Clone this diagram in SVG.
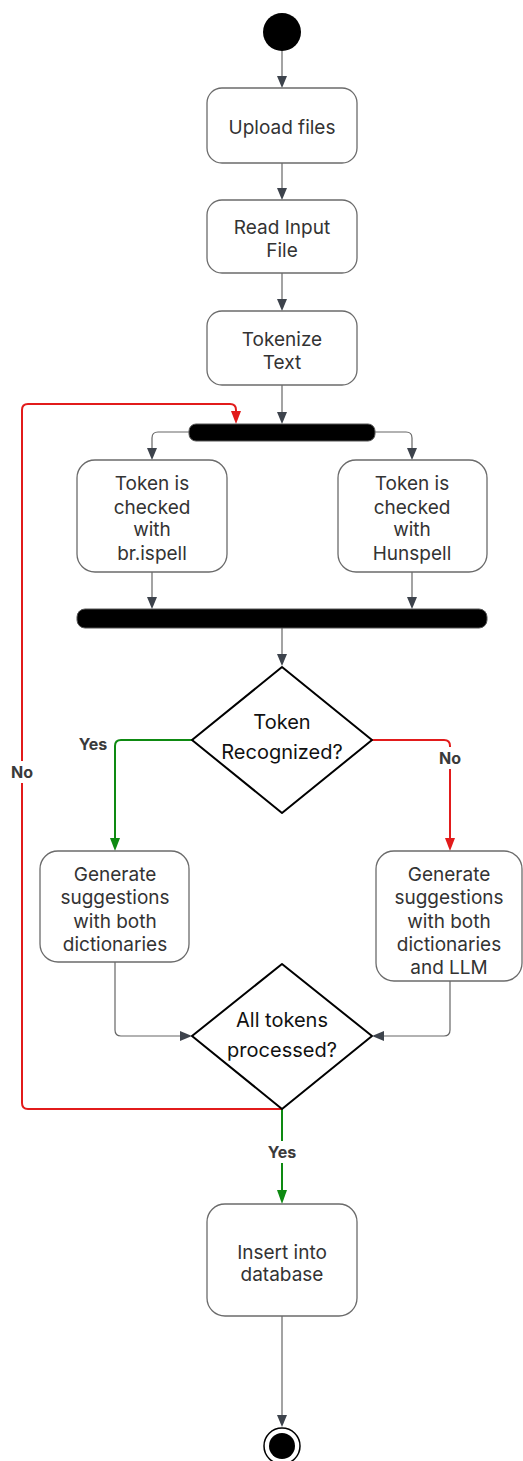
<svg xmlns="http://www.w3.org/2000/svg" width="523" height="1461" viewBox="0 0 523 1461">
<style>
.box{fill:#fff;stroke:#6b6b6b;stroke-width:1.3}
.dia{fill:#fff;stroke:#000;stroke-width:2;stroke-linejoin:round}
.bar{fill:#000;stroke:#555;stroke-width:1}
.t{font-family:Inter,"Liberation Sans",sans-serif;font-size:19px;fill:#333;text-anchor:middle;dominant-baseline:central}
.td{font-family:Inter,"Liberation Sans",sans-serif;font-size:20px;fill:#111;text-anchor:middle;dominant-baseline:central}
.lbl{font-family:Inter,"Liberation Sans",sans-serif;font-size:16px;font-weight:bold;fill:#3a3a3a;text-anchor:middle;dominant-baseline:central}
.c{fill:none;stroke:#666;stroke-width:1.2}
.g{fill:none;stroke:#0e8a12;stroke-width:2}
.r{fill:none;stroke:#e21b1b;stroke-width:2}
.ah{fill:#3d434c}
.ahg{fill:#0e8a12}
.ahr{fill:#e21b1b}
</style>
<g id="connectors">
<path class="c" d="M282,51 V76"/><path class="ah" d="M277,76 L287,76 L282,88 Z"/>
<path class="c" d="M282,163 V188"/><path class="ah" d="M277,188 L287,188 L282,200 Z"/>
<path class="c" d="M282,273 V299"/><path class="ah" d="M277,299 L287,299 L282,311 Z"/>
<path class="c" d="M282,385 V412"/><path class="ah" d="M277,412 L287,412 L282,424 Z"/>
<path class="c" d="M189,432 H158 Q152,432 152,438 V448"/><path class="ah" d="M147,448 L157,448 L152,460 Z"/>
<path class="c" d="M375,432 H406 Q412,432 412,438 V448"/><path class="ah" d="M407,448 L417,448 L412,460 Z"/>
<path class="c" d="M152,572 V597"/><path class="ah" d="M147,597 L157,597 L152,609 Z"/>
<path class="c" d="M412,572 V597"/><path class="ah" d="M407,597 L417,597 L412,609 Z"/>
<path class="c" d="M282,628 V654"/><path class="ah" d="M277,654 L287,654 L282,666 Z"/>
<path class="g" d="M192,740 H121 Q115,740 115,746 V838"/><path class="ahg" d="M110,838 L120,838 L115,851 Z"/>
<path class="r" d="M372,740 H444 Q450,740 450,746 V838"/><path class="ahr" d="M445,838 L455,838 L450,851 Z"/>
<path class="c" d="M115,962 V1030 Q115,1036 121,1036 H180"/><path class="ah" d="M180,1031 L192,1036 L180,1041 Z"/>
<path class="c" d="M450,981 V1030 Q450,1036 444,1036 H384"/><path class="ah" d="M384,1031 L372,1036 L384,1041 Z"/>
<path class="r" d="M282,1109 H28 Q22,1109 22,1103 V410 Q22,404 28,404 H230 Q236,404 236,410 V412"/><path class="ahr" d="M231,411 L241,411 L236,424 Z"/>
<path class="g" d="M282,1109 V1190"/><path class="ahg" d="M277,1190 L287,1190 L282,1204 Z"/>
<path class="c" d="M282,1316 V1415"/><path class="ah" d="M277,1415 L287,1415 L282,1427 Z"/>
<rect x="9" y="761" width="26" height="22" fill="#fff"/>
<text class="lbl" x="22" y="772">No</text>
<text class="lbl" x="93" y="744">Yes</text>
<rect x="437" y="747" width="26" height="22" fill="#fff"/>
<text class="lbl" x="450" y="758">No</text>
<rect x="265" y="1141" width="34" height="22" fill="#fff"/>
<text class="lbl" x="282" y="1152">Yes</text>
</g>
<g id="start"><circle cx="282" cy="32" r="19" fill="#000"/></g>
<g id="upload"><rect class="box" x="207" y="88" width="150" height="75" rx="15"/><text class="t" x="282" y="127">Upload files</text></g>
<g id="read"><rect class="box" x="207" y="200" width="150" height="73" rx="15"/><text class="t" x="282" y="227">Read Input</text><text class="t" x="282" y="250">File</text></g>
<g id="tokenize"><rect class="box" x="207" y="311" width="150" height="74" rx="15"/><text class="t" x="282" y="339">Tokenize</text><text class="t" x="282" y="362">Text</text></g>
<g id="fork"><rect class="bar" x="189" y="424" width="186" height="17" rx="7"/></g>
<g id="ispell"><rect class="box" x="77" y="460" width="150" height="112" rx="18"/><text class="t" x="152" y="483">Token is</text><text class="t" x="152" y="507">checked</text><text class="t" x="152" y="529">with</text><text class="t" x="152" y="553">br.ispell</text></g>
<g id="hunspell"><rect class="box" x="338" y="460" width="149" height="112" rx="18"/><text class="t" x="412" y="483">Token is</text><text class="t" x="412" y="507">checked</text><text class="t" x="412" y="529">with</text><text class="t" x="412" y="553">Hunspell</text></g>
<g id="join"><rect class="bar" x="77" y="609" width="410" height="19" rx="8"/></g>
<g id="recognized"><path class="dia" d="M282,667 L372,740 L282,813 L192,740 Z"/><text class="td" x="282" y="722">Token</text><text class="td" x="282" y="752">Recognized?</text></g>
<g id="genDict"><rect class="box" x="40" y="851" width="149" height="111" rx="18"/><text class="t" x="115" y="874">Generate</text><text class="t" x="115" y="897">suggestions</text><text class="t" x="115" y="921">with both</text><text class="t" x="115" y="944">dictionaries</text></g>
<g id="genLLM"><rect class="box" x="376" y="851" width="146" height="130" rx="18"/><text class="t" x="449" y="874">Generate</text><text class="t" x="449" y="897">suggestions</text><text class="t" x="449" y="921">with both</text><text class="t" x="449" y="944">dictionaries</text><text class="t" x="449" y="967">and LLM</text></g>
<g id="allProcessed"><path class="dia" d="M282,964 L372,1036 L282,1109 L192,1036 Z"/><text class="td" x="282" y="1020">All tokens</text><text class="td" x="282" y="1050">processed?</text></g>
<g id="insert"><rect class="box" x="207" y="1204" width="150" height="112" rx="18"/><text class="t" x="282" y="1252">Insert into</text><text class="t" x="282" y="1274">database</text></g>
<g id="end"><circle cx="282" cy="1446" r="18" fill="#fff" stroke="#000" stroke-width="1.5"/><circle cx="282" cy="1446" r="13" fill="#000"/></g>
</svg>
